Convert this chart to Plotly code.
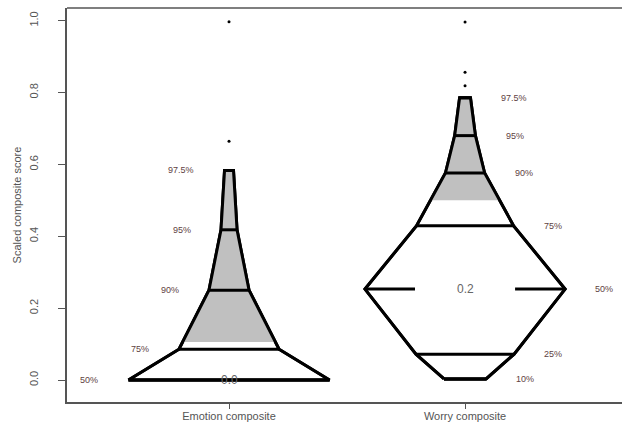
import numpy as np
import plotly.graph_objects as go

# ---------------- data ----------------
groups = ["Emotion composite", "Worry composite"]
centers = [1, 2]

emo_labels = ["50%", "75%", "90%", "95%", "97.5%"]
emo_values = [0.0, 0.086, 0.25, 0.418, 0.583]
emo_halfwidth = [0.426, 0.212, 0.085, 0.034, 0.019]
emo_median_text = "0.0"
emo_shade_from = 0.106
emo_outliers = [0.664, 0.997]

wor_labels = ["10%", "25%", "50%", "75%", "90%", "95%", "97.5%"]
wor_values = [0.003, 0.072, 0.253, 0.429, 0.576, 0.68, 0.785]
wor_halfwidth = [0.089, 0.208, 0.424, 0.206, 0.083, 0.044, 0.023]
wor_median_text = "0.2"
wor_shade_from = 0.50
wor_outliers = [0.819, 0.856, 0.996]

y_ticks = [0.0, 0.2, 0.4, 0.6, 0.8, 1.0]

LABEL_GAP = 0.12
LABEL_COLOR = "#5e4242"
TEXT_GRAY = "#555555"

fig = go.Figure()


def add_group(cx, labels, values, hw, median_text, shade_from, outliers, side, median_gap):
    values = np.asarray(values, float)
    hw = np.asarray(hw, float)
    # white body
    xs = list(cx - hw) + list(cx + hw[::-1])
    ys = list(values) + list(values[::-1])
    fig.add_trace(go.Scatter(x=xs + [xs[0]], y=ys + [ys[0]], mode="lines",
                             fill="toself", fillcolor="white",
                             line=dict(color="black", width=3), hoverinfo="skip",
                             showlegend=False))
    # gray shaded upper part
    sel = values > shade_from
    sv = np.concatenate([[shade_from], values[sel]])
    sw = np.concatenate([[np.interp(shade_from, values, hw)], hw[sel]])
    gx = list(cx - sw) + list(cx + sw[::-1])
    gy = list(sv) + list(sv[::-1])
    fig.add_trace(go.Scatter(x=gx + [gx[0]], y=gy + [gy[0]], mode="lines",
                             fill="toself", fillcolor="#c0c0c0",
                             line=dict(color="rgba(0,0,0,0)", width=0),
                             hoverinfo="skip", showlegend=False))
    # outline again on top
    fig.add_trace(go.Scatter(x=xs + [xs[0]], y=ys + [ys[0]], mode="lines",
                             line=dict(color="black", width=3), hoverinfo="skip",
                             showlegend=False))
    # horizontal quantile lines
    for lab, v, w in zip(labels, values, hw):
        if lab == "50%" and median_gap > 0:
            for a, b in [(cx - w, cx - median_gap), (cx + median_gap, cx + w)]:
                fig.add_trace(go.Scatter(x=[a, b], y=[v, v], mode="lines",
                                         line=dict(color="black", width=3),
                                         hoverinfo="skip", showlegend=False))
        else:
            fig.add_trace(go.Scatter(x=[cx - w, cx + w], y=[v, v], mode="lines",
                                     line=dict(color="black", width=3),
                                     hoverinfo="skip", showlegend=False))
        if side == "left":
            fig.add_annotation(x=cx - w - LABEL_GAP, y=v, text=lab, showarrow=False,
                               xanchor="right", yanchor="middle",
                               font=dict(size=9, color=LABEL_COLOR, family="Liberation Sans"))
        else:
            fig.add_annotation(x=cx + w + LABEL_GAP, y=v, text=lab, showarrow=False,
                               xanchor="left", yanchor="middle",
                               font=dict(size=9, color=LABEL_COLOR, family="Liberation Sans"))
        if lab == "50%":
            fig.add_annotation(x=cx, y=v, text=median_text, showarrow=False,
                               xanchor="center", yanchor="middle",
                               font=dict(size=12, color="#666666", family="Liberation Sans"))
    # outliers
    fig.add_trace(go.Scatter(x=[cx] * len(outliers), y=outliers, mode="markers",
                             marker=dict(color="black", size=3), hoverinfo="skip",
                             showlegend=False))


add_group(centers[0], emo_labels, emo_values, emo_halfwidth, emo_median_text,
          emo_shade_from, emo_outliers, "left", 0)
add_group(centers[1], wor_labels, wor_values, wor_halfwidth, wor_median_text,
          wor_shade_from, wor_outliers, "right", 0.212)

fig.update_layout(
    width=622, height=426,
    margin=dict(l=67, r=0, t=8, b=24),
    plot_bgcolor="white", paper_bgcolor="white",
    font=dict(family="Liberation Sans", size=11, color=TEXT_GRAY),
    xaxis=dict(range=[0.3136, 2.665], tickvals=centers, ticktext=groups,
               automargin=False,
               showgrid=False, zeroline=False, showline=True, linecolor="#555555",
               linewidth=1.5, ticks="outside", ticklen=5, tickcolor="#555555",
               ticklabelstandoff=-2,
               tickfont=dict(size=11, color=TEXT_GRAY)),
    yaxis=dict(range=[-0.061, 1.035], tickvals=y_ticks,
               ticktext=[f"{t:.1f}" for t in y_ticks], automargin=False,
               showgrid=False, zeroline=False, showline=True, linecolor="#555555",
               linewidth=1.5, ticks="outside", ticklen=7, tickcolor="#555555",
               tickangle=-90, ticklabelstandoff=16,
               tickfont=dict(size=11, color=TEXT_GRAY),
               title=dict(text="Scaled composite score", font=dict(size=11, color=TEXT_GRAY),
                          standoff=4)),
    shapes=[dict(type="line", xref="paper", yref="paper", x0=0, x1=1, y0=1, y1=1,
                 line=dict(color="#555555", width=1.5))],
)

fig.write_html("out.html", config={"displayModeBar": False},
               post_script="document.body.style.margin='0';document.body.style.overflow='hidden';")
